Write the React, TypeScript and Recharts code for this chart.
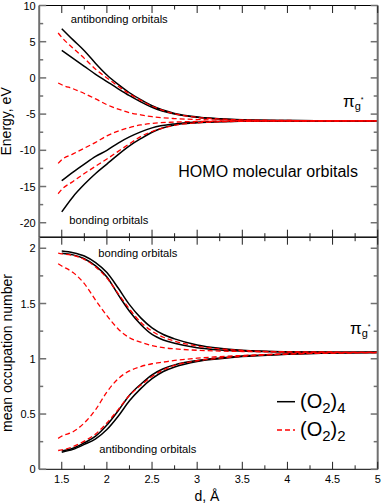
import React from 'react';
import { LineChart, Line, XAxis, YAxis } from 'recharts';

// ---------- data ----------
const dBlackTop = [1.5, 1.625, 1.75, 1.875, 2, 2.125, 2.25, 2.375, 2.5, 2.75, 3, 3.25, 3.5, 4, 4.5, 5];
const dRedTop = [1.46, 1.5, 1.625, 1.75, 1.875, 2, 2.125, 2.25, 2.375, 2.5, 2.75, 3, 3.25, 3.5, 4, 4.5, 5];

// Energy (eV), (O2)4 – black
const eBlack1 = [6.8, 5.25, 3.75, 2.0, 0.4, -0.9, -2.05, -3.0, -3.85, -4.9, -5.4, -5.65, -5.78, -5.88, -5.92, -5.93];
const eBlack2 = [3.8, 2.7, 1.6, 0.5, -0.5, -1.5, -2.45, -3.3, -4.05, -5.0, -5.45, -5.68, -5.8, -5.88, -5.92, -5.93];
const eBlack3 = [-14.2, -13.0, -11.9, -10.85, -10.0, -9.0, -8.15, -7.45, -6.9, -6.35, -6.12, -6.02, -5.98, -5.95, -5.94, -5.94];
const eBlack4 = [-18.5, -16.4, -14.7, -13.2, -11.9, -10.6, -9.4, -8.4, -7.5, -6.5, -6.2, -6.05, -5.99, -5.95, -5.94, -5.94];
// Energy (eV), (O2)2 – red dashed
const eRed1 = [6.2, 5.6, 4.1, 2.7, 1.2, 0.0, -1.15, -2.2, -3.1, -3.9, -4.95, -5.45, -5.68, -5.8, -5.88, -5.92, -5.93];
const eRed2 = [-0.7, -0.95, -1.5, -2.15, -2.9, -3.7, -4.3, -4.8, -5.1, -5.35, -5.62, -5.75, -5.83, -5.87, -5.91, -5.93, -5.94];
const eRed3 = [-11.8, -11.3, -10.5, -9.7, -8.9, -8.0, -7.35, -6.85, -6.5, -6.28, -6.1, -6.02, -5.99, -5.97, -5.95, -5.94, -5.94];
const eRed4 = [-16.0, -15.4, -14.3, -13.2, -12.2, -11.2, -10.15, -9.1, -8.1, -7.4, -6.55, -6.2, -6.06, -6.0, -5.96, -5.95, -5.94];

const dBlackBot = [1.5, 1.625, 1.75, 1.875, 2, 2.125, 2.25, 2.375, 2.5, 2.625, 2.75, 3, 3.25, 3.5, 4, 4.5, 5];
const dRedBot = [1.46, 1.5, 1.625, 1.75, 1.875, 2, 2.125, 2.25, 2.375, 2.5, 2.625, 2.75, 3, 3.25, 3.5, 4, 4.5, 5];

// mean occupation number, (O2)4 – black
const nBlack1 = [1.975, 1.96, 1.93, 1.87, 1.78, 1.64, 1.49, 1.37, 1.28, 1.22, 1.18, 1.125, 1.095, 1.078, 1.064, 1.06, 1.058];
const nBlack2 = [1.955, 1.94, 1.905, 1.84, 1.74, 1.58, 1.43, 1.31, 1.22, 1.17, 1.14, 1.1, 1.08, 1.07, 1.062, 1.059, 1.058];
const nBlack3 = [0.165, 0.19, 0.24, 0.3, 0.4, 0.53, 0.67, 0.77, 0.855, 0.91, 0.945, 0.985, 1.008, 1.025, 1.043, 1.053, 1.056];
const nBlack4 = [0.155, 0.18, 0.225, 0.275, 0.36, 0.48, 0.62, 0.73, 0.82, 0.885, 0.925, 0.975, 1.0, 1.02, 1.04, 1.052, 1.056];
// mean occupation number, (O2)2 – red dashed
const nRed1 = [1.955, 1.95, 1.935, 1.9, 1.83, 1.73, 1.59, 1.45, 1.33, 1.25, 1.195, 1.16, 1.115, 1.09, 1.075, 1.063, 1.059, 1.058];
const nRed2 = [1.86, 1.84, 1.78, 1.68, 1.53, 1.39, 1.27, 1.19, 1.15, 1.12, 1.1, 1.09, 1.077, 1.07, 1.066, 1.061, 1.059, 1.058];
const nRed3 = [0.17, 0.175, 0.205, 0.255, 0.32, 0.42, 0.54, 0.67, 0.76, 0.84, 0.9, 0.94, 0.982, 1.005, 1.022, 1.042, 1.052, 1.056];
const nRed4 = [0.28, 0.3, 0.34, 0.42, 0.54, 0.7, 0.82, 0.89, 0.93, 0.955, 0.97, 0.985, 1.005, 1.02, 1.03, 1.045, 1.053, 1.056];

// ticks
const xTicks = [1.5, 1.75, 2, 2.25, 2.5, 2.75, 3, 3.25, 3.5, 3.75, 4, 4.25, 4.5, 4.75, 5];
const energyTicks = [-20, -17.5, -15, -12.5, -10, -7.5, -5, -2.5, 0, 2.5, 5, 7.5, 10];
const occTicks = [0, 0.25, 0.5, 0.75, 1, 1.25, 1.5, 1.75, 2];

// ---------- helpers ----------
const FONT = '"Liberation Sans", Arial, Helvetica, sans-serif';
const AX = '#707070';
const rows = (xs: number[], ys: number[]) => xs.map((d, i) => ({ d, v: ys[i] }));
const isMajor = (v: number, step: number) => Math.abs(v / step - Math.round(v / step)) < 1e-6;

const leftTick = (step: number) => (p: any) => {
  const v = p.payload.value;
  const maj = isMajor(v, step);
  return (
    <g>
      <line x1={p.x} x2={p.x + (maj ? 7 : 4)} y1={p.y} y2={p.y} stroke={AX} strokeWidth={1.5} />
      {maj && (
        <text x={p.x - 3.5} y={p.y + 4} textAnchor="end" fontSize={11} fontFamily={FONT} fill="#000">
          {String(v)}
        </text>
      )}
    </g>
  );
};
const rightTick = (step: number) => (p: any) => {
  const maj = isMajor(p.payload.value, step);
  return <line x1={p.x} x2={p.x - (maj ? 7 : 4)} y1={p.y} y2={p.y} stroke={AX} strokeWidth={1.5} />;
};
const downTick = (p: any) => {
  const maj = isMajor(p.payload.value, 0.5);
  return <line x1={p.x} x2={p.x} y1={p.y} y2={p.y + (maj ? 7.5 : 4)} stroke="#222" strokeWidth={1} />;
};
const upTick = (p: any) => {
  const maj = isMajor(p.payload.value, 0.5);
  return <line x1={p.x} x2={p.x} y1={p.y} y2={p.y - (maj ? 7.5 : 4)} stroke="#222" strokeWidth={1} />;
};
const upTickLabel = (p: any) => {
  const v = p.payload.value;
  const maj = isMajor(v, 0.5);
  return (
    <g>
      <line x1={p.x} x2={p.x} y1={p.y} y2={p.y - (maj ? 7.5 : 4)} stroke="#222" strokeWidth={1} />
      {maj && (
        <text x={p.x} y={p.y + 14} textAnchor="middle" fontSize={11} fontFamily={FONT} fill="#000">
          {String(v)}
        </text>
      )}
    </g>
  );
};

const blackLine = (data: any[], key: string) => (
  <Line key={key} xAxisId="b" yAxisId="l" data={data} dataKey="v" type="monotone" stroke="#000"
    strokeWidth={1.5} dot={false} isAnimationActive={false} />
);
const redLine = (data: any[], key: string) => (
  <Line key={key} xAxisId="b" yAxisId="l" data={data} dataKey="v" type="monotone" stroke="#ff0000"
    strokeWidth={1.3} strokeDasharray="5 3" dot={false} isAnimationActive={false} />
);

const common = {
  type: 'number' as const,
  allowDataOverflow: true,
  interval: 0 as const,
  tickSize: 0,
  tickMargin: 0,
  tickLine: false,
};

export default function App() {
  return (
    <div style={{ position: 'absolute', left: 0, top: 0, width: 382, height: 504, background: '#fff', overflow: 'hidden' }}>
      <div style={{ position: 'absolute', left: 0, top: 0 }}>
        <LineChart width={382} height={240} margin={{ top: 4.5, right: 3.3, bottom: 1.8, left: 0 }}>
          <XAxis xAxisId="b" dataKey="d" {...common} domain={[1.25, 5]} ticks={xTicks} height={1}
            orientation="bottom" axisLine={{ stroke: '#000', strokeWidth: 1 }} tick={upTick} />
          <XAxis xAxisId="t" dataKey="d" {...common} domain={[1.25, 5]} ticks={xTicks} height={1}
            orientation="top" axisLine={{ stroke: '#000', strokeWidth: 1 }} tick={downTick} />
          <YAxis yAxisId="l" {...common} domain={[-22, 10]} ticks={energyTicks} width={39.2}
            axisLine={{ stroke: AX, strokeWidth: 2 }} tick={leftTick(5)} />
          <YAxis yAxisId="r" orientation="right" {...common} domain={[-22, 10]} ticks={energyTicks} width={1}
            axisLine={{ stroke: AX, strokeWidth: 2 }} tick={rightTick(5)} />
          {blackLine(rows(dBlackTop, eBlack1), 'b1')}
          {blackLine(rows(dBlackTop, eBlack2), 'b2')}
          {blackLine(rows(dBlackTop, eBlack3), 'b3')}
          {blackLine(rows(dBlackTop, eBlack4), 'b4')}
          {redLine(rows(dRedTop, eRed1), 'r1')}
          {redLine(rows(dRedTop, eRed2), 'r2')}
          {redLine(rows(dRedTop, eRed3), 'r3')}
          {redLine(rows(dRedTop, eRed4), 'r4')}
        </LineChart>
      </div>
      <div style={{ position: 'absolute', left: 0, top: 230 }}>
        <LineChart width={382} height={274} margin={{ top: 6.2, right: 3.3, bottom: 0, left: 0 }}>
          <XAxis xAxisId="b" dataKey="d" {...common} domain={[1.25, 5]} ticks={xTicks} height={34.7}
            orientation="bottom" axisLine={{ stroke: '#000', strokeWidth: 1 }} tick={upTickLabel} />
          <XAxis xAxisId="t" dataKey="d" {...common} domain={[1.25, 5]} ticks={xTicks} height={1}
            orientation="top" axisLine={{ stroke: '#000', strokeWidth: 1 }} tick={downTick} />
          <YAxis yAxisId="l" {...common} domain={[0, 2.1]} ticks={occTicks} width={39.2}
            axisLine={{ stroke: AX, strokeWidth: 2 }} tick={leftTick(0.5)} />
          <YAxis yAxisId="r" orientation="right" {...common} domain={[0, 2.1]} ticks={occTicks} width={1}
            axisLine={{ stroke: AX, strokeWidth: 2 }} tick={rightTick(0.5)} />
          {blackLine(rows(dBlackBot, nBlack1), 'b1')}
          {blackLine(rows(dBlackBot, nBlack2), 'b2')}
          {blackLine(rows(dBlackBot, nBlack3), 'b3')}
          {blackLine(rows(dBlackBot, nBlack4), 'b4')}
          {redLine(rows(dRedBot, nRed1), 'r1')}
          {redLine(rows(dRedBot, nRed2), 'r2')}
          {redLine(rows(dRedBot, nRed3), 'r3')}
          {redLine(rows(dRedBot, nRed4), 'r4')}
        </LineChart>
      </div>
      <svg width={382} height={504} style={{ position: 'absolute', left: 0, top: 0, pointerEvents: 'none' }}
        fontFamily={FONT} fill="#000">
        <text x={11.5} y={121.4} transform="rotate(-90 11.5 121.4)" textAnchor="middle" fontSize={14}>Energy, eV</text>
        <text x={11.5} y={353} transform="rotate(-90 11.5 353)" textAnchor="middle" fontSize={14}>mean occupation number</text>
        <text x={207} y={501} textAnchor="middle" fontSize={14}>d, Å</text>

        <text x={70.7} y={23} fontSize={11.2}>antibonding orbitals</text>
        <text x={69.3} y={224} fontSize={11.2}>bonding orbitals</text>
        <text x={178.3} y={176.5} fontSize={16}>HOMO molecular orbitals</text>
        <text x={343} y={107} fontSize={17}>π<tspan fontSize={11} dy={3}>g</tspan><tspan fontSize={7} dy={-8}>*</tspan></text>

        <text x={98.3} y={257} fontSize={11.2}>bonding orbitals</text>
        <text x={99.3} y={453} fontSize={11.2}>antibonding orbitals</text>
        <text x={350} y={333.5} fontSize={17}>π<tspan fontSize={11} dy={3}>g</tspan><tspan fontSize={7} dy={-8}>*</tspan></text>

        <line x1={277} x2={295} y1={401.7} y2={401.7} stroke="#000" strokeWidth={1.5} />
        <text x={300} y={408} fontSize={20}>(O<tspan fontSize={15} dy={4.5}>2</tspan><tspan dy={-4.5}>)</tspan><tspan fontSize={15} dy={4.5}>4</tspan></text>
        <line x1={277} x2={295} y1={430} y2={430} stroke="#ff0000" strokeWidth={1.3} strokeDasharray="5 3" />
        <text x={300} y={436.3} fontSize={20}>(O<tspan fontSize={15} dy={4.5}>2</tspan><tspan dy={-4.5}>)</tspan><tspan fontSize={15} dy={4.5}>2</tspan></text>
      </svg>
    </div>
  );
}
